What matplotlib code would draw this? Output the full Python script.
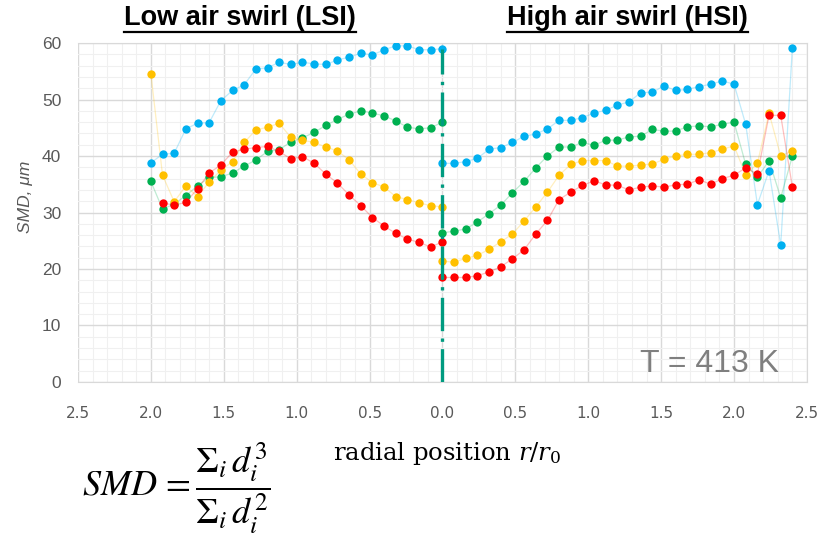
import numpy as np
import matplotlib
matplotlib.use('Agg')
import matplotlib.pyplot as plt
from matplotlib.lines import Line2D
from matplotlib.ticker import MultipleLocator, FuncFormatter

# radial stations r/r0 (LSI drawn to the left of the axis, HSI to the right)
r_lsi = [2.00, 1.92, 1.84, 1.76, 1.68, 1.60, 1.52, 1.44, 1.36, 1.28, 1.20, 1.12, 1.04,
         0.96, 0.88, 0.80, 0.72, 0.64, 0.56, 0.48, 0.40, 0.32, 0.24, 0.16, 0.08, 0.00]
r_hsi = [0.00, 0.08, 0.16, 0.24, 0.32, 0.40, 0.48, 0.56, 0.64, 0.72, 0.80, 0.88, 0.96,
         1.04, 1.12, 1.20, 1.28, 1.36, 1.44, 1.52, 1.60, 1.68, 1.76, 1.84, 1.92, 2.00,
         2.08, 2.16, 2.24, 2.32, 2.40]

# SMD in micron, low swirl
lsi_blue = [38.8, 40.3, 40.5, 44.8, 45.8, 45.9, 49.8, 51.6, 52.6, 55.4, 55.6, 56.6, 56.2,
            56.6, 56.3, 56.2, 57.0, 57.5, 58.2, 57.9, 58.8, 59.5, 59.5, 58.8, 58.8, 59.0]
lsi_green = [35.5, 30.6, 31.5, 33.0, 34.7, 36.2, 36.3, 37.0, 38.2, 39.3, 40.8, 41.1, 42.5,
             43.2, 44.2, 45.4, 46.5, 47.4, 48.0, 47.6, 47.1, 46.2, 45.1, 44.8, 45.0, 46.0]
lsi_orange = [54.6, 36.6, 31.9, 34.7, 32.8, 35.4, 37.5, 39.0, 42.4, 44.6, 45.1, 45.8, 43.3,
              42.8, 42.4, 41.6, 40.9, 39.3, 36.8, 35.3, 34.5, 32.8, 32.3, 31.7, 31.2, 31.0]
lsi_red = [np.nan, 31.7, 31.3, 31.8, 34.2, 37.0, 38.4, 40.7, 41.2, 41.5, 41.7, 40.8, 39.5,
           39.9, 38.7, 36.8, 35.2, 33.1, 31.2, 29.1, 27.6, 26.3, 25.3, 24.7, 23.9, 24.8]

# SMD in micron, high swirl
hsi_blue = [38.7, 38.7, 39.0, 39.6, 41.2, 41.5, 42.4, 43.5, 43.9, 44.8, 46.3, 46.3, 46.8,
            47.6, 48.1, 49.0, 49.6, 51.2, 51.3, 52.4, 51.6, 51.8, 52.3, 52.7, 53.3, 52.7,
            45.6, 31.4, 37.4, 24.2, 59.2]
hsi_green = [26.4, 26.7, 27.1, 28.3, 29.8, 31.3, 33.5, 35.5, 37.9, 40.0, 41.6, 41.6, 42.4,
             41.9, 42.8, 42.8, 43.4, 43.5, 44.7, 44.4, 44.4, 45.2, 45.3, 45.2, 45.6, 46.0,
             38.5, 36.2, 39.2, 32.6, 40.0]
hsi_orange = [21.4, 21.2, 21.9, 22.4, 23.5, 24.8, 26.2, 28.5, 31.0, 33.6, 36.6, 38.5, 39.2,
              39.2, 39.2, 38.2, 38.2, 38.4, 38.6, 39.4, 40.0, 40.3, 40.3, 40.6, 41.2, 41.8,
              36.6, 38.7, 47.6, 40.0, 40.9]
hsi_red = [18.5, 18.5, 18.5, 18.8, 19.5, 20.4, 21.8, 23.4, 26.2, 28.6, 32.3, 33.6, 34.8,
           35.6, 34.9, 34.8, 34.0, 34.5, 34.7, 34.5, 34.9, 35.0, 35.8, 35.0, 36.0, 36.6,
           37.9, 36.8, 47.2, 47.2, 34.5]

xticks = [-2.5, -2.0, -1.5, -1.0, -0.5, 0.0, 0.5, 1.0, 1.5, 2.0, 2.5]

c_blue = '#00B0F0'
c_green = '#00B050'
c_orange = '#FFC000'
c_red = '#FF0000'
c_axis = '#009B80'
c_text = '#595959'

fig = plt.figure(figsize=(8.19, 5.39), dpi=100)
ax = fig.add_axes([0.0952, 0.2913, 0.8901, 0.6289])

x_lsi = -np.array(r_lsi)
x_hsi = np.array(r_hsi)
for xs, series in [(x_lsi, [lsi_blue, lsi_green, lsi_orange, lsi_red]),
                   (x_hsi, [hsi_blue, hsi_green, hsi_orange, hsi_red])]:
    for ys, col in zip(series, [c_blue, c_green, c_orange, c_red]):
        ax.plot(xs, ys, '-', color=col, lw=0.9, alpha=0.25, zorder=2)
        ax.plot(xs, ys, 'o', color=col, ms=6, mec='none', zorder=3)

# centre line
ax.plot([0, 0], [0, 59], color=c_axis, lw=2.4, ls=(0, (10, 2.2, 1, 2.2)), zorder=4)

ax.set_xlim(-2.5, 2.5)
ax.set_ylim(0, 60)
ax.set_xticks(xticks)
ax.xaxis.set_major_formatter(FuncFormatter(lambda v, p: '%.1f' % abs(v)))
ax.yaxis.set_major_locator(MultipleLocator(10))
ax.xaxis.set_minor_locator(MultipleLocator(0.1))
ax.yaxis.set_minor_locator(MultipleLocator(2))
ax.grid(which='major', color='#D9D9D9', lw=1.0)
ax.grid(which='minor', color='#F0F0F0', lw=0.8)
ax.set_axisbelow(True)
ax.tick_params(which='both', length=0)
ax.tick_params(axis='x', pad=17, labelsize=11, labelcolor=c_text)
ax.tick_params(axis='y', pad=12, labelsize=12.5, labelcolor=c_text)
for lab in ax.get_xticklabels():
    lab.set_family(['Liberation Sans Narrow', 'DejaVu Sans'])
for lab in ax.get_yticklabels():
    lab.set_family('Liberation Sans')
for s in ax.spines.values():
    s.set_color('#D9D9D9')
ax.spines['left'].set_visible(False)

fig.text(0.031, 0.635, 'SMD, μm', rotation=90, ha='center', va='center',
         fontsize=12.5, style='italic', color=c_text, family='Liberation Sans')

ax.text(0.771, 0.03, 'T = 413 K', transform=ax.transAxes, fontsize=23,
        color='#7F7F7F', family='Liberation Sans', ha='left', va='baseline')

t1 = fig.text(0.293, 0.966, 'Low air swirl (LSI)', ha='center', va='center',
              fontsize=19.5, fontweight='bold', family='Liberation Sans')
t2 = fig.text(0.766, 0.966, 'High air swirl (HSI)', ha='center', va='center',
              fontsize=19.5, fontweight='bold', family='Liberation Sans')

fig.text(0.546, 0.158, 'radial position $r/r_0$', ha='center', va='center',
         fontsize=17.5, family='DejaVu Serif', math_fontfamily='dejavuserif')

fig.text(0.10, 0.094, r'$SMD\,=\dfrac{\Sigma_i\,d_i^3}{\Sigma_i\,d_i^2}$',
         ha='left', va='center', fontsize=26, math_fontfamily='stix')

# underline the two headings
fig.canvas.draw()
renderer = fig.canvas.get_renderer()
for t in (t1, t2):
    bb = t.get_window_extent(renderer)
    y = bb.y0 - 1
    fig.add_artist(Line2D([bb.x0 / 819, bb.x1 / 819], [y / 539, y / 539],
                          color='black', lw=1.6))

fig.savefig('out.png', dpi=100)
